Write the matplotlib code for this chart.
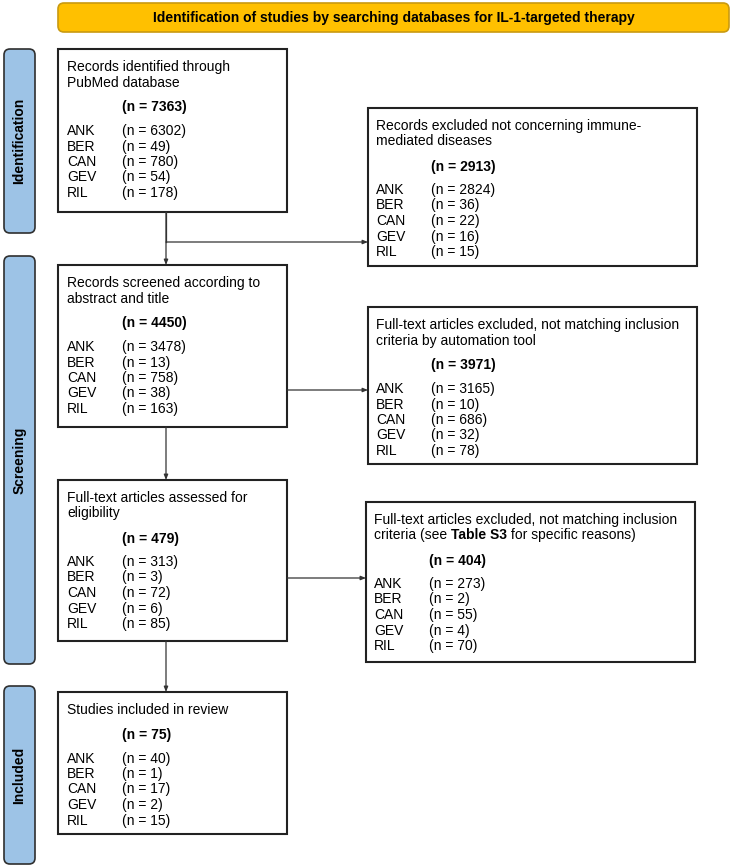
import matplotlib
matplotlib.use("Agg")
import matplotlib.pyplot as plt
from matplotlib.patches import FancyBboxPatch, Rectangle

plt.rcParams['font.family'] = ['Liberation Sans', 'DejaVu Sans']

banner = "Identification of studies by searching databases for IL-1-targeted therapy"
stages = ["Identification", "Screening", "Included"]
drugs = ["ANK", "BER", "CAN", "GEV", "RIL"]

# main column
titles_left = [
    ["Records identified through", "PubMed database"],
    ["Records screened according to", "abstract and title"],
    ["Full-text articles assessed for", "eligibility"],
    ["Studies included in review"],
]
totals_left = [7363, 4450, 479, 75]
counts_left = [
    [6302, 49, 780, 54, 178],
    [3478, 13, 758, 38, 163],
    [313, 3, 72, 6, 85],
    [40, 1, 17, 2, 15],
]

# excluded column
titles_right = [
    ["Records excluded not concerning immune-", "mediated diseases"],
    ["Full-text articles excluded, not matching inclusion", "criteria by automation tool"],
    ["Full-text articles excluded, not matching inclusion", "criteria (see |Table S3| for specific reasons)"],
]
totals_right = [2913, 3971, 404]
counts_right = [
    [2824, 36, 22, 16, 15],
    [3165, 10, 686, 32, 78],
    [273, 2, 55, 4, 70],
]

W, H = 736, 867
fig = plt.figure(figsize=(W / 100, H / 100), dpi=100)
ax = fig.add_axes([0, 0, 1, 1])
ax.set_xlim(0, W)
ax.set_ylim(H, 0)
ax.axis('off')

FS = 10
BL = 5  # baseline offset from line centre, px

# banner
ax.add_patch(FancyBboxPatch((58, 3), 671, 29, boxstyle="round,pad=0,rounding_size=6",
                            fc="#FFC000", ec="#C99A10", lw=1.2))
ax.text(393.5, 18, banner, ha='center', va='center', fontsize=FS, fontweight='bold')

# stage bars
bars = [(49, 233), (256, 664), (686, 864)]
for name, (y0, y1) in zip(stages, bars):
    ax.add_patch(FancyBboxPatch((4, y0), 31, y1 - y0, boxstyle="round,pad=0,rounding_size=6",
                                fc="#9DC3E6", ec="#2F2F2F", lw=1.2))
    ax.text(19.5, (y0 + y1) / 2, name, rotation=90, ha='center', va='center',
            fontsize=FS, fontweight='bold')

fig.canvas.draw()
renderer = fig.canvas.get_renderer()


def put_line(x, y, s):
    # parts between | are bold
    parts = s.split('|')
    cx = x
    for i, p in enumerate(parts):
        if not p:
            continue
        t = ax.text(cx, round(y) + BL, p, ha='left', va='baseline', fontsize=FS,
                    fontweight='bold' if i % 2 else 'normal')
        bb = t.get_window_extent(renderer)
        cx += bb.width


def draw_box(x0, y0, x1, y1, title, total, counts, tx, vx):
    ax.add_patch(Rectangle((x0, y0), x1 - x0, y1 - y0, fc='white', ec='#222222', lw=1.5))
    y = y0 + 17
    for ln in title:
        put_line(tx, y, ln)
        y += 15.5
    y += 9.5
    ax.text(vx, round(y) + BL, "(n = %d)" % total, ha='left', va='baseline', fontsize=FS,
            fontweight='bold')
    y += 23.5
    for d, c in zip(drugs, counts):
        yy = round(y) + BL
        ax.text(tx, yy, d, ha='left', va='baseline', fontsize=FS)
        ax.text(vx, yy, "(n = %d)" % c, ha='left', va='baseline', fontsize=FS)
        y += 15.5


left_boxes = [(58, 49, 287, 212), (58, 265, 287, 427), (58, 480, 287, 641), (58, 692, 287, 834)]
right_boxes = [(368, 108, 697, 266), (368, 307, 697, 464), (366, 502, 695, 662)]

for b, t, n, c in zip(left_boxes, titles_left, totals_left, counts_left):
    draw_box(*b, t, n, c, 67, 122)
for b, t, n, c in zip(right_boxes, titles_right, totals_right, counts_right):
    draw_box(*b, t, n, c, b[0] + 8, b[0] + 63)


def arrow(x0, y0, x1, y1):
    ax.annotate("", xy=(x1, y1), xytext=(x0, y0),
                arrowprops=dict(arrowstyle="-|>,head_length=0.3,head_width=0.12",
                                color="#333333", lw=0.9, shrinkA=0, shrinkB=0))


xc = 166
for i in range(3):
    arrow(xc, left_boxes[i][3], xc, left_boxes[i + 1][1])

# branch to first excluded box from the vertical connector
ax.plot([xc, xc], [212, 242], color="#333333", lw=0.9)
arrow(xc, 242, right_boxes[0][0], 242)
arrow(287, 390, right_boxes[1][0], 390)
arrow(287, 578, right_boxes[2][0], 578)

fig.savefig("out.png", dpi=100)
